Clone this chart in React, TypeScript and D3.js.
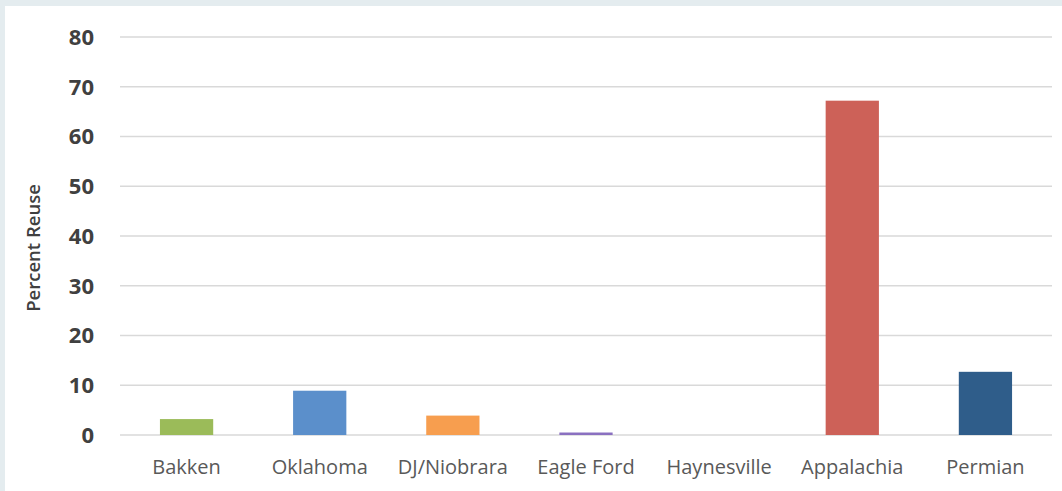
import React from "react";
import * as d3 from "d3";

const categories = ["Bakken", "Oklahoma", "DJ/Niobrara", "Eagle Ford", "Haynesville", "Appalachia", "Permian"];
const values = [3.2, 8.9, 3.9, 0.5, 0, 67.2, 12.7];
const colors = ["#9bbb59", "#5b8fcb", "#f79e4f", "#8a70c0", "#4bacc6", "#cd6158", "#2f5d8a"];
const yTicks = [0, 10, 20, 30, 40, 50, 60, 70, 80];
const yTitle = "Percent Reuse";

const W = 1062;
const H = 491;
const plot = { left: 120, right: 1052, top: 37, bottom: 435 };

export default function App() {
  const x = d3.scaleBand<string>().domain(categories).range([plot.left, plot.right]).paddingInner(0.6).paddingOuter(0.3);
  const y = d3.scaleLinear().domain([0, 80]).range([plot.bottom, plot.top]);
  const font = "'Open Sans', 'Noto Sans', sans-serif";
  return (
    <svg width={W} height={H} style={{ position: "fixed", left: 0, top: 0 }}>
      <rect x={0} y={0} width={W} height={H} fill="#e4ecef" />
      <rect x={5} y={6} width={W - 5} height={H - 6} fill="#ffffff" />
      {yTicks.map((t) => (
        <g key={t}>
          <line x1={plot.left} x2={plot.right} y1={y(t)} y2={y(t)} stroke="#d9d9d9" strokeWidth={1.5} />
          <text x={94} y={y(t)} dy="0.36em" textAnchor="end" fontFamily={font} fontSize={22} fontWeight={700} fill="#404040">
            {t}
          </text>
        </g>
      ))}
      {categories.map((c, i) => {
        const h = plot.bottom - y(values[i]);
        return (
          <g key={c}>
            {values[i] > 0 && (
              <rect x={x(c)} y={y(values[i])} width={x.bandwidth()} height={Math.max(h, 2)} fill={colors[i]} />
            )}
            <text x={(x(c) as number) + x.bandwidth() / 2} y={474} textAnchor="middle" fontFamily={font} fontSize={20} fill="#595959">
              {c}
            </text>
          </g>
        );
      })}
      <text transform={`translate(34,248) rotate(-90)`} textAnchor="middle" dy="0.35em" fontFamily={font} fontSize={18.5} fontWeight={600} fill="#404040">
        {yTitle}
      </text>
    </svg>
  );
}
